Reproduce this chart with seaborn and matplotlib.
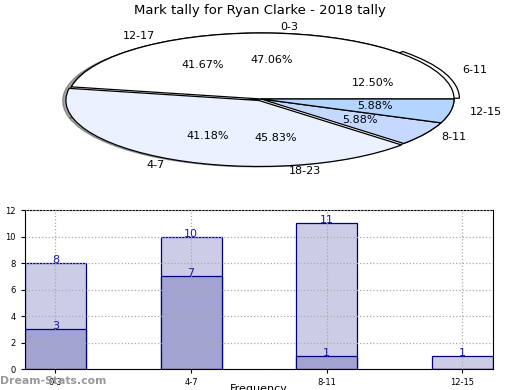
import matplotlib
matplotlib.use('Agg')
import matplotlib.pyplot as plt
import seaborn as sns

# pie data (two overlaid pies)
pie1_labels = ['0-3', '4-7', '8-11', '12-15']
pie1_values = [8, 7, 1, 1]
pie2_labels = ['6-11', '12-17', '18-23']
pie2_values = [3, 10, 11]

# bar data
categories = ['0-3', '4-7', '8-11', '12-15']
total_counts = [8, 10, 11, 1]
sub_counts = [3, 7, 1, 0]

fig = plt.figure(figsize=(5.2, 3.9), dpi=100)
fig.text(0.5, 0.974, 'Mark tally for Ryan Clarke - 2018 tally', ha='center', va='center', fontsize=9.5)

# Pie chart (squashed)
ax1 = fig.add_axes([0.1308, 0.5769, 0.7423, 0.3385])
wp = {'edgecolor': 'black', 'linewidth': 0.9}
ax1.pie(pie2_values, labels=pie2_labels, autopct='%.2f%%', startangle=0,
        colors=['white'] * 3, explode=[0.03, 0, 0], shadow=True,
        wedgeprops=wp, textprops={'fontsize': 8})
ax1.pie(pie1_values, labels=pie1_labels, autopct='%.2f%%', startangle=0,
        colors=['white', '#ebf1ff', '#c5d9ff', '#b4d5ff'], explode=[0, 0.025, 0, 0],
        wedgeprops=wp, textprops={'fontsize': 8})
ax1.set_aspect('auto')
ax1.set_xlim(-1.0, 1.0)
ax1.set_ylim(-1.0, 1.0)

# Bar chart
ax2 = fig.add_axes([0.048, 0.0538, 0.9, 0.4077])
sns.barplot(x=categories, y=total_counts, color='#ccccE6', saturation=1,
            edgecolor='#000080', linewidth=0.9, width=0.45, ax=ax2)
sns.barplot(x=categories, y=sub_counts, color='#a3a3d1', saturation=1,
            edgecolor='#000080', linewidth=0.9, width=0.45, ax=ax2)
for i, v in enumerate(total_counts):
    ax2.text(i, v - 0.15, str(v), ha='center', va='bottom', color='#1a1aa0', fontsize=8)
for i, v in enumerate(sub_counts):
    if v > 0:
        ax2.text(i, v - 0.15, str(v), ha='center', va='bottom', color='#1a1aa0', fontsize=8)

ax2.set_xlim(-0.225, 3.225)
ax2.set_ylim(0, 12)
ax2.set_yticks(range(0, 13, 2))
ax2.tick_params(labelsize=6, length=3)
ax2.grid(True, linestyle=':', color='#aaaaaa', linewidth=0.9)
ax2.set_axisbelow(False)
ax2.set_xlabel('Frequency', fontsize=8)
ax2.xaxis.set_label_coords(0.5, -0.094)
ax2.set_ylabel('')

fig.text(0.0, 0.024, 'Dream-Stats.com', ha='left', va='center', fontsize=7.8,
         color='#999999', fontweight='bold')

fig.savefig('out.png', dpi=100)
